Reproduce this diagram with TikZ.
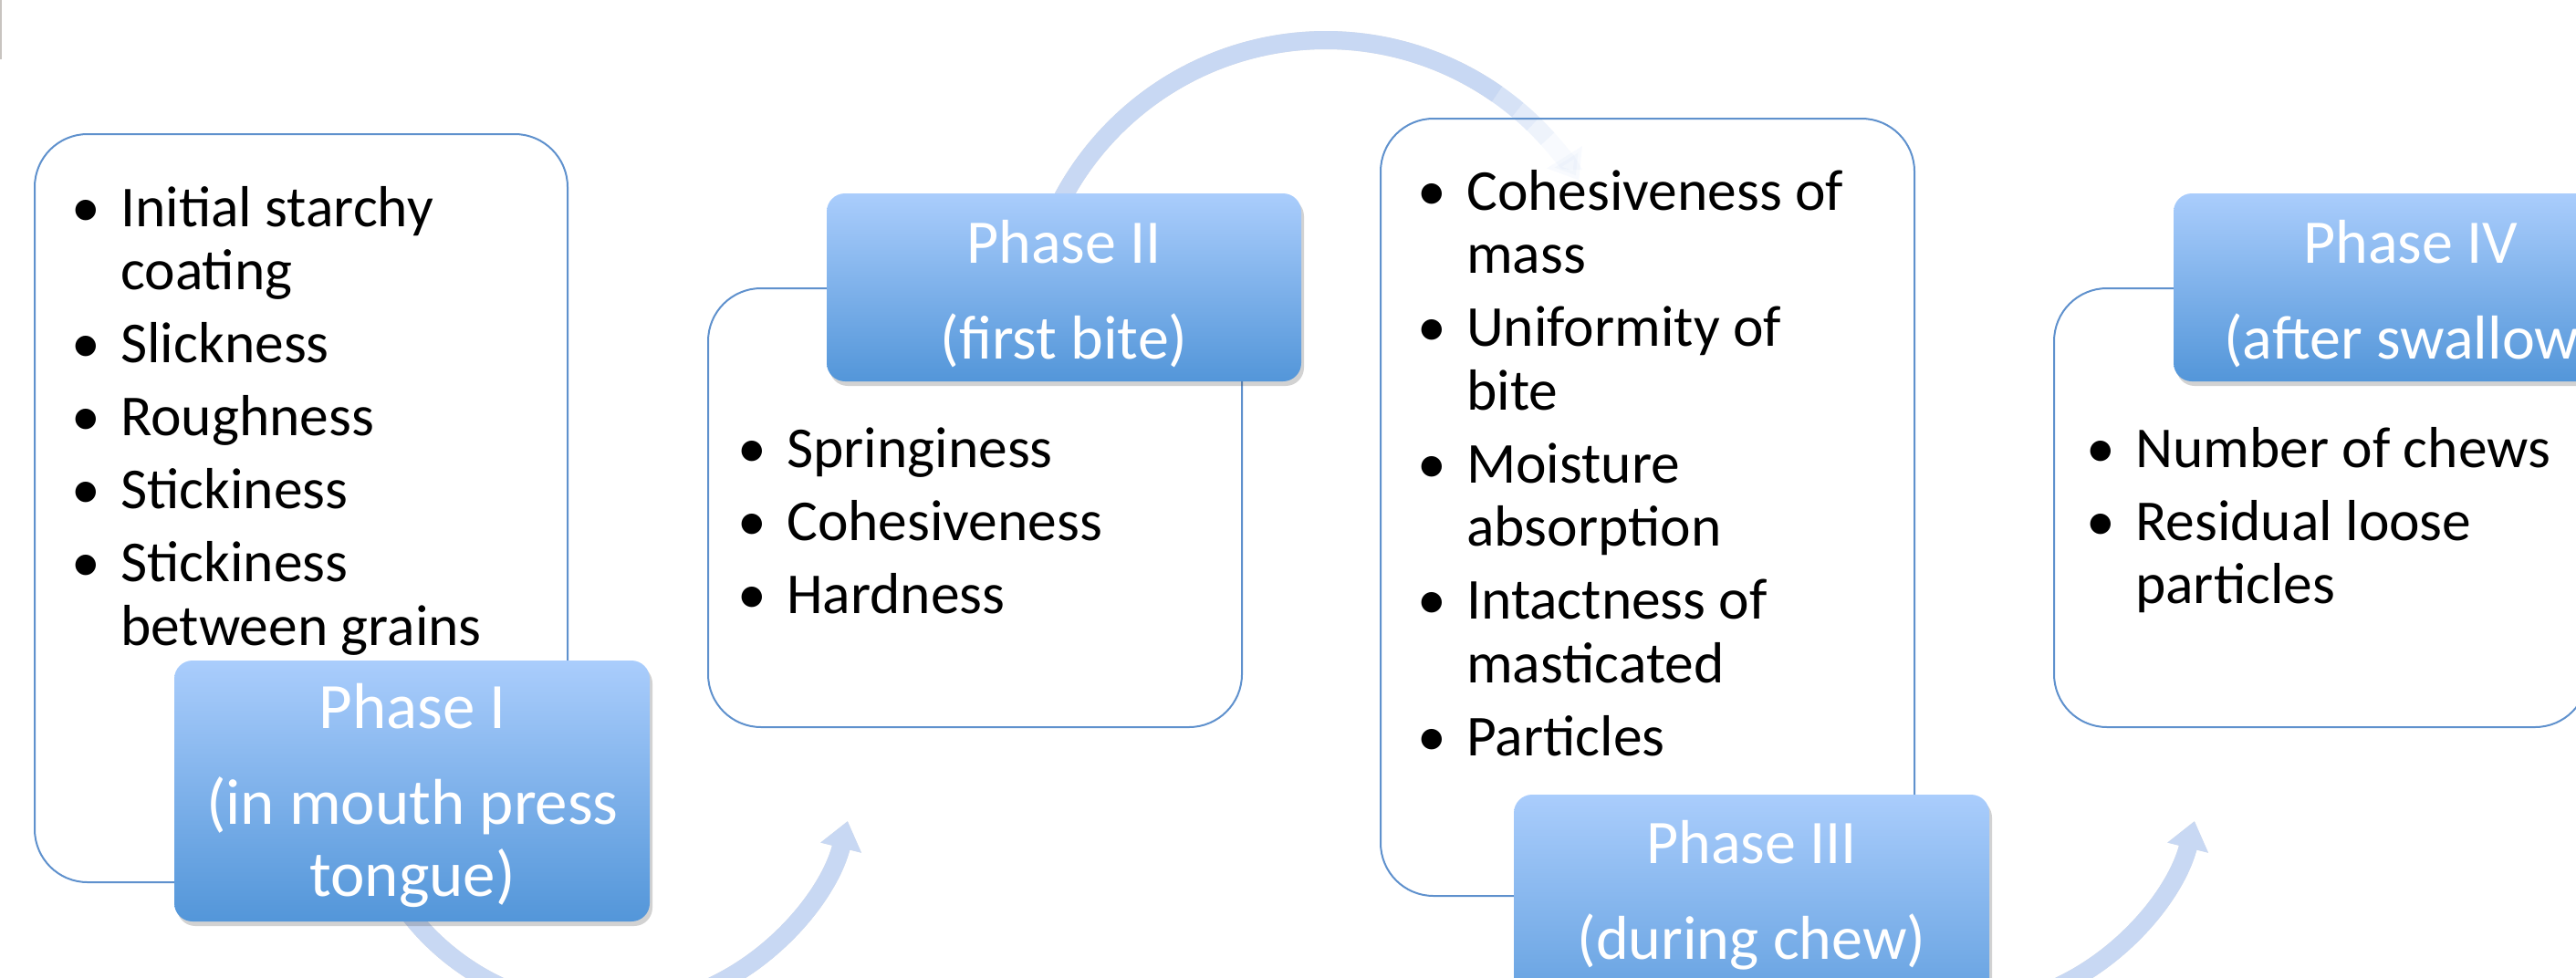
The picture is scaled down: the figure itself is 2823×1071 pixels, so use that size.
\documentclass[tikz,border=0pt]{standalone}
\usepackage{fontspec}
\setmainfont{Carlito}
\usetikzlibrary{arrows.meta,shadows,calc}
\definecolor{phtop}{RGB}{170,205,252}
\definecolor{phbot}{RGB}{83,150,217}
\definecolor{boxline}{RGB}{95,145,205}
\definecolor{arrcol}{RGB}{200,216,243}
\definecolor{edgegray}{RGB}{200,196,192}
\newcommand\bul{\leavevmode\llap{\textbullet\hspace{22pt}}}
\newcommand\itemgap{\par\vskip10.5pt}
\newcommand\phgap{\par\vskip26pt}
\begin{document}
\begin{tikzpicture}[x=1pt,y=-1pt,
  tbox/.style={draw=boxline, line width=2pt, rounded corners=58pt, inner sep=0pt},
  phasebox/.style={rounded corners=20pt, top color=phtop, bottom color=phbot, draw=none, inner sep=0pt,
     drop shadow={shadow xshift=3pt, shadow yshift=-5pt, opacity=0.25, fill=black!70}},
  listtext/.style={anchor=base west, inner sep=0pt, font=\fontsize{63.5pt}{69.5pt}\selectfont},
  phasetext/.style={anchor=base, inner sep=0pt, text=white, font=\fontsize{68pt}{79pt}\selectfont},
  bigphasetext/.style={phasetext, font=\fontsize{71pt}{79pt}\selectfont},
  flowarrow/.style={draw=arrcol, line width=20pt, -{Triangle[width=44pt,length=30pt]}},
  arrowshadow/.style={draw=black, opacity=0.12, line width=20pt, -{Triangle[width=44pt,length=30pt]}, shift={(3,4)}}
]
\clip (0,0) rectangle (2823,1071);
% faint edge line at top left
\coordinate (e1) at (1,0);
\coordinate (e2) at (1,65);
\draw[edgegray, line width=2pt] (e1) -- (e2);

% curved arrows
\coordinate (c1) at (664,834);
\coordinate (a1s) at ($(c1)+(150:273)$);
\draw[arrowshadow] (a1s) arc[start angle=150, end angle=14, radius=273];
\draw[flowarrow] (a1s) arc[start angle=150, end angle=14, radius=273];

\coordinate (c3) at (2140,834);
\coordinate (a3s) at ($(c3)+(150:273)$);
\draw[arrowshadow] (a3s) arc[start angle=150, end angle=14, radius=273];
\draw[flowarrow] (a3s) arc[start angle=150, end angle=14, radius=273];

\coordinate (c2) at (1453,371);
\coordinate (a2s) at ($(c2)+(200:327)$);
\draw[arrowshadow, -] (a2s) arc[start angle=200, end angle=305, radius=327];
\draw[draw=arrcol, line width=20pt] (a2s) arc[start angle=200, end angle=305, radius=327];
\foreach \sa/\ea/\op in {305/310/0.75, 310/314/0.5, 314/318/0.3}{
  \draw[draw=arrcol, line width=20pt, opacity=\op] ($(c2)+(\sa:327)$) arc[start angle=\sa, end angle=\ea, radius=327];
}
\draw[flowarrow, opacity=0.12] ($(c2)+(318:327)$) arc[start angle=318, end angle=328, radius=327];

% text boxes
\node[tbox, minimum width=584pt, minimum height=820pt] (b1) at (330,557) {};
\node[tbox, minimum width=585pt, minimum height=481pt] (b2) at (1068.5,556.5) {};
\node[tbox, minimum width=585pt, minimum height=852pt] (b3) at (1805.5,556) {};
\node[tbox, minimum width=585pt, minimum height=481pt] (b4) at (2543.5,556.5) {};

% phase boxes
\node[phasebox, minimum width=521pt, minimum height=286pt] (p1) at (451.5,867) {};
\node[phasebox, minimum width=520pt, minimum height=206pt] (p2) at (1166,315) {};
\node[phasebox, minimum width=521pt, minimum height=286pt] (p3) at (1919.5,1014) {};
\node[phasebox, minimum width=520pt, minimum height=206pt] (p4) at (2642,315) {};

% list texts
\node[listtext] (l1) at (132,248) {\parbox[t]{600pt}{\raggedright
  \bul Initial starchy\\coating\itemgap
  \bul Slickness\itemgap
  \bul Roughness\itemgap
  \bul Stickiness\itemgap
  \bul Stickiness\\between grains}};
\node[listtext] (l2) at (862,512) {\parbox[t]{600pt}{\raggedright
  \bul Springiness\itemgap
  \bul Cohesiveness\itemgap
  \bul Hardness}};
\node[listtext] (l3) at (1607,230) {\parbox[t]{600pt}{\raggedright
  \bul Cohesiveness of\\mass\itemgap
  \bul Uniformity of\\bite\itemgap
  \bul Moisture\\absorption\itemgap
  \bul Intactness of\\masticated\itemgap
  \bul Particles}};
\node[listtext] (l4) at (2340,512) {\parbox[t]{600pt}{\raggedright
  \bul Number of chews\itemgap
  \bul Residual loose\\particles}};

% phase texts
\node[bigphasetext] (t1) at (452,798) {\parbox[t]{560pt}{\centering Phase I\phgap (in mouth press\\tongue)}};
\node[phasetext] (t2) at (1166,288) {\parbox[t]{560pt}{\centering Phase II\phgap (first bite)}};
\node[phasetext] (t3) at (1919.5,946) {\parbox[t]{560pt}{\centering Phase III\phgap (during chew)}};
\node[phasetext] (t4) at (2642,288) {\parbox[t]{560pt}{\centering Phase IV\phgap (after swallow)}};
\end{tikzpicture}
\end{document}
